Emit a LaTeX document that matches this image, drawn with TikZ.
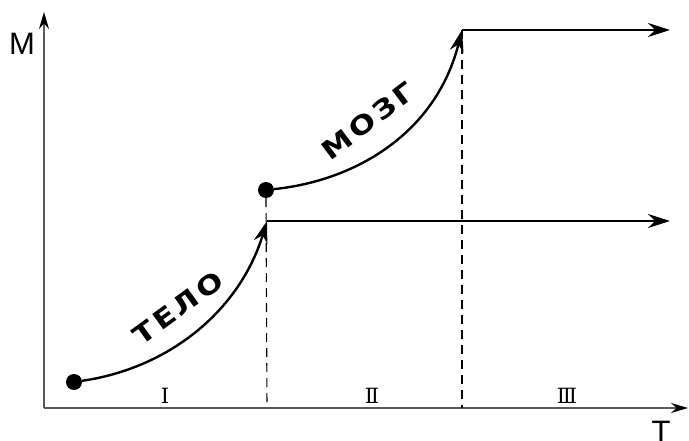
\documentclass[tikz,border=0pt]{standalone}
\usepackage{fontspec}
\setmainfont{Liberation Sans}
\newfontfamily\djvserif{DejaVu Serif}
\newfontfamily\djvwide[FakeStretch=1.2]{DejaVu Sans}
\usetikzlibrary{arrows.meta,positioning}

\begin{document}
\begin{tikzpicture}[
  x=1pt, y=-1pt,
  axis/.style={draw=black!65, line width=1.4pt, -{Stealth[length=17pt, width=10pt, black]}},
  growth/.style={line width=2.4pt, -{Stealth[length=22pt, width=14pt]}},
  level/.style={line width=2.4pt, -{Stealth[length=22pt, width=14pt]}},
  guide/.style={line width=1.1pt, dash pattern=on 9pt off 6pt},
  dot/.style={circle, fill=black, inner sep=0pt, minimum size=16pt},
  word/.style={font=\djvwide\bfseries\fontsize{26}{26}\selectfont\addfontfeature{LetterSpace=12}},
  stage/.style={font=\djvserif\fontsize{21}{21}\selectfont},
  axlab/.style={font=\fontsize{31}{31}\selectfont}
]
\useasboundingbox (0,0) rectangle (689,441);

% axes
\coordinate (origin) at (44,408);
\coordinate (ytop) at (44,12);
\coordinate (xend) at (688,408);
\draw[axis] (origin) -- (ytop);
\draw[axis] (origin) -- (xend);
\node[axlab] (mlab) at (22,44) {M};
\node[axlab] (tlab) at (661,432) {T};

% points and levels
\node[dot] (body) at (74,382) {};
\node[dot] (brain) at (266,190) {};
\coordinate (step1) at (267,221);
\coordinate (step2) at (462,30);
\coordinate (end1) at (670,221);
\coordinate (end2) at (670,30);
\coordinate (foot1) at (267,408);
\coordinate (foot2) at (462,408);

% growth curves
\draw[growth] (body) .. controls (170,368) and (240,310) .. (step1);
\draw[growth] (brain) .. controls (360,180) and (437,130) .. (step2);
\draw[level] (step1) -- (end1);
\draw[level] (step2) -- (end2);

% stage borders
\draw[guide] (brain.south) -- (foot1);
\draw[guide] (step2) -- (foot2);

% labels
\node[word, rotate=36] (telo) at (178,308) {ТЕЛО};
\node[word, rotate=37] (mozg) at (368,121) {МОЗГ};
\node[stage] (st1) at (165,396) {Ⅰ};
\node[stage] (st2) at (372,396) {Ⅱ};
\node[stage] (st3) at (567,396) {Ⅲ};
\end{tikzpicture}
\end{document}
